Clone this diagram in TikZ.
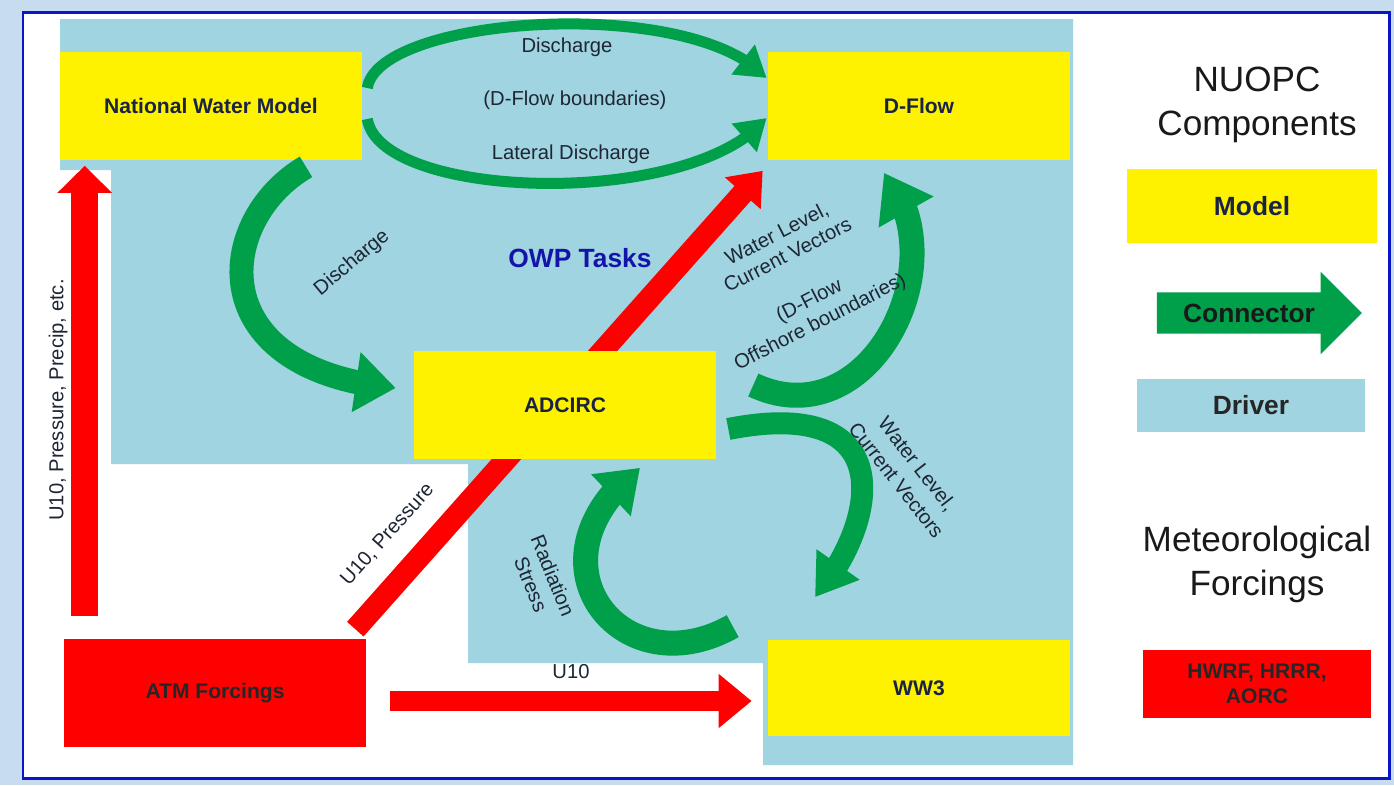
\documentclass[tikz,border=0pt]{standalone}
\usepackage{fontspec}
\setmainfont{Liberation Sans}
\usepackage{xcolor}
\usetikzlibrary{arrows.meta,positioning,calc,bending,shapes.arrows}

\definecolor{drvblue}{RGB}{160,212,224}
\definecolor{frameblue}{RGB}{10,20,200}
\definecolor{pageblue}{RGB}{200,220,240}
\definecolor{conngreen}{RGB}{0,160,74}
\definecolor{txtnavy}{RGB}{25,35,70}
\definecolor{lbltext}{RGB}{30,38,52}
\definecolor{owpblue}{RGB}{20,20,170}

\begin{document}
\begin{tikzpicture}[x=0.02cm, y=-0.02cm,
  model/.style={fill=yellow, inner sep=0pt, minimum width=6.04cm, minimum height=2.18cm,
    text=txtnavy, align=center, font=\fontsize{12}{14}\selectfont\bfseries},
  forcing/.style={model, fill=red, text=black!85},
  conn/.style={draw=conngreen, line width=#1},
  redarr/.style={draw=red, line width=#1},
  lbl/.style={text=lbltext, font=\fontsize{11.5}{13.5}\selectfont, align=center, inner sep=1pt},
  legend/.style={font=\fontsize{20}{25}\selectfont, align=center, text=black!90}]
\useasboundingbox (0,0) rectangle (1394,785);
% page and frame
\fill[pageblue] (0,0) rectangle (1394,785);
\draw[frameblue, line width=0.06cm, fill=white] (23,12) rectangle (1389,778);
% driver area
\fill[drvblue] (60,19) -- (1073,19) -- (1073,765) -- (763,765) -- (763,663) -- (468,663)
  -- (468,464) -- (111,464) -- (111,170) -- (60,170) -- cycle;

% models
\node[model] (nwm) at (211,106) {National Water Model};
\node[model] (dflow) at (919,106) {D-Flow};
\node[model, minimum height=1.94cm] (ww3) at (919,688) {WW3};
\node[forcing] (atm) at (215,693) {ATM Forcings};

% meteorological forcings
\draw[redarr=0.54cm, -{Triangle[width=1.06cm, length=0.54cm]}] ($(atm.north west)+(21,-22)$)
  -- node[pos=0.48, sloped, above=1pt, lbl]{U10, Pressure, Precip, etc.} ($(nwm.south west)+(25,5)$);
\draw[redarr=0.44cm, -{Triangle[width=0.92cm, length=0.6cm]}] ($(atm.north east)+(-11,-9)$)
  -- node[pos=0.15, sloped, above=10pt, lbl]{U10, Pressure} ($(dflow.south west)+(-5,10)$);
\draw[redarr=0.4cm, -{Triangle[width=1.04cm, length=0.66cm]}] ($(atm.east)+(24,8)$)
  -- node[pos=0.5, above=6pt, lbl]{U10} ($(ww3.west)+(-16,13)$);

\node[model] (adcirc) at (565,405) {ADCIRC};

% connectors
\draw[conn=0.22cm, -{Triangle[width=0.72cm, length=0.6cm]}] ($(nwm.east)+(5,-18)$)
  .. controls (378,16) and (690,-6) .. ($(dflow.west)+(-1,-28)$);
\draw[conn=0.22cm, -{Triangle[width=0.72cm, length=0.6cm]}] ($(nwm.east)+(5,13)$)
  .. controls (380,200) and (690,210) .. ($(dflow.west)+(-1,12)$);
\draw[conn=0.48cm, -{Triangle[width=1.16cm, length=0.8cm]}] ($(nwm.south)+(95,6)$)
  .. controls (215,220) and (200,370) .. ($(adcirc.west)+(-18,-17)$);
\draw[conn=0.5cm, -{Triangle[width=1.2cm, length=0.9cm]}] ($(adcirc.east)+(37,-20)$)
  .. controls (870,440) and (960,260) .. ($(dflow.south)+(-35,12)$);
\draw[conn=0.44cm, -{Triangle[width=1.0cm, length=0.8cm]}] ($(adcirc.east)+(12,24)$)
  .. controls (900,395) and (880,520) .. ($(ww3.north)+(-104,-42)$);
\draw[conn=0.5cm, -{Triangle[width=1.1cm, length=0.8cm]}] ($(ww3.north west)+(-35,-13)$)
  .. controls (620,690) and (520,560) .. ($(adcirc.south)+(75,8)$);

% connector labels
\node[lbl] (lbldis) at (567,47) {Discharge};
\node[lbl] (lblbnd) at (575,100) {(D-Flow boundaries)};
\node[lbl] (lbllat) at (571,154) {Lateral Discharge};
\node[lbl, rotate=40] (lbldis2) at (352,263) {Discharge};
\node[lbl, rotate=27] (lblwl) at (782,244) {Water Level,\\Current Vectors};
\node[lbl, rotate=27] (lbloff) at (815,312) {(D-Flow\\Offshore boundaries)};
\node[lbl, rotate=-52, font=\fontsize{11.5}{15}\selectfont] (lblwl2) at (907,472) {Water Level,\\Current Vectors};
\node[lbl, rotate=-68] (lblrad) at (542,580) {Radiation\\Stress};
\node[text=owpblue, font=\fontsize{15}{18}\selectfont\bfseries] (owp) at (580,258) {OWP Tasks};

% legend
\node[legend] (nuopc) at (1257,105) {NUOPC\\Components};
\node[model, minimum width=5cm, minimum height=1.5cm, font=\fontsize{15}{18}\selectfont\bfseries]
  (legmodel) at (1252,206) {Model};
\node[single arrow, fill=conngreen, inner xsep=4pt, inner ysep=6.2pt, minimum height=4.1cm,
  single arrow head extend=0.41cm, font=\fontsize{15}{18}\selectfont\bfseries, text=black!90]
  (legconn) at (1249,313) {Connector};
\node[fill=drvblue, minimum width=4.56cm, minimum height=1.06cm, inner sep=0pt,
  font=\fontsize{15}{18}\selectfont\bfseries, text=black!85] (legdriver) at (1251,405) {Driver};
\node[legend] (metfor) at (1257,564) {Meteorological\\Forcings};
\node[forcing, minimum width=4.56cm, minimum height=1.36cm] (leghwrf) at (1257,684) {HWRF, HRRR,\\AORC};
\end{tikzpicture}
\end{document}
